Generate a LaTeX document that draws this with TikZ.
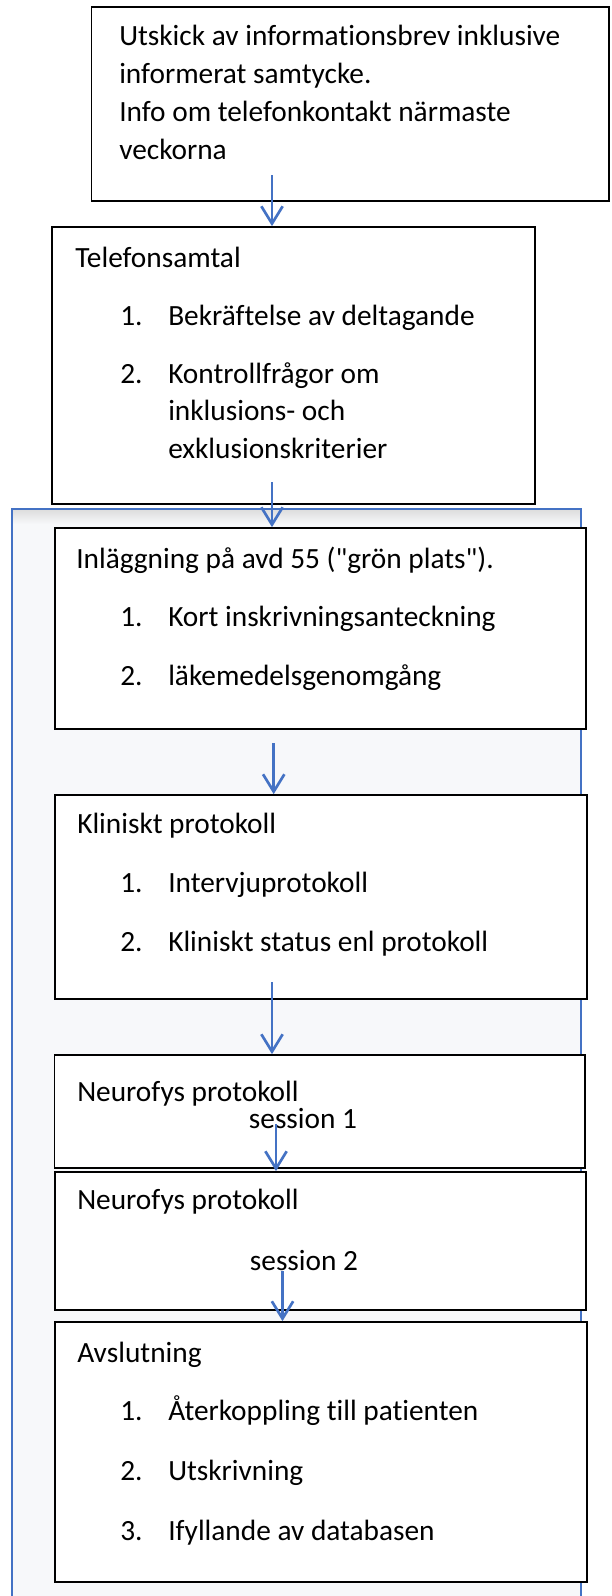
\documentclass[tikz,border=0pt]{standalone}
\usepackage{fontspec}
\setmainfont{Carlito}[Ligatures={TeXOff,NoCommon}]
\usetikzlibrary{arrows.meta,fit}
\definecolor{wblue}{HTML}{4472C4}
\definecolor{framefill}{HTML}{F7F8FA}
\tikzset{
 box/.style={draw=black, line width=1.3pt, fill=white, inner sep=0pt},
 txt/.style={anchor=base west, inner sep=0pt, font=\fontsize{22}{27}\selectfont},
 ctxt/.style={anchor=base, inner sep=0pt, font=\fontsize{22}{27}\selectfont},
 flow/.style={draw=wblue, line width=2pt, -{Straight Barb[length=13pt,width=16pt]}},
}
\begin{document}
\begin{tikzpicture}[x=0.75pt,y=-0.75pt]
\useasboundingbox (0,0) rectangle (611,1596);
% outer blue frame (open at the bottom)
\fill[framefill] (12,509) rectangle (581,1596);
\shade[top color=black!13, bottom color=framefill] (13,510) rectangle (580,524);
\draw[wblue, line width=2pt] (12,1600) -- (12,509) -- (581,509) -- (581,1600);

% boxes
\node[box, fit={(91.6,7) (609,201)}] (b1) {};
\node[box, fit={(52,227) (535,504)}] (b2) {};
\node[box, fit={(55,528) (586,729)}] (b3) {};
\node[box, fit={(55,795) (587,999)}] (b4) {};
\node[box, fit={(54.5,1055) (585,1168)}] (b5) {};
\node[box, fit={(55,1172) (586,1310)}] (b6) {};
\node[box, fit={(55,1322) (587,1582)}] (b7) {};

% box 1 text
\node[txt] (t1a) at (119,45.5) {Utskick av informationsbrev inklusive};
\node[txt] (t1b) at (119,83.5) {informerat samtycke.};
\node[txt] (t1c) at (119,121) {Info om telefonkontakt närmaste};
\node[txt] (t1d) at (119,159) {veckorna};

% box 2 text
\node[txt] (t2a) at (75,267) {Telefonsamtal};
\node[txt] (t2n1) at (120,325) {1.};
\node[txt] (t2b) at (168,325) {Bekräftelse av deltagande};
\node[txt] (t2n2) at (120,383) {2.};
\node[txt] (t2c) at (168,383) {Kontrollfrågor om};
\node[txt] (t2d) at (168,420.5) {inklusions- och};
\node[txt] (t2e) at (168,458) {exklusionskriterier};

% box 3 text
\node[txt] (t3a) at (76,568) {Inläggning på avd 55 ("grön plats").};
\node[txt] (t3n1) at (120,626) {1.};
\node[txt] (t3b) at (168,626) {Kort inskrivningsanteckning};
\node[txt] (t3n2) at (120,685) {2.};
\node[txt] (t3c) at (168,685) {läkemedelsgenomgång};

% box 4 text
\node[txt] (t4a) at (77,833) {Kliniskt protokoll};
\node[txt] (t4n1) at (120,892) {1.};
\node[txt] (t4b) at (168,892) {Intervjuprotokoll};
\node[txt] (t4n2) at (120,951) {2.};
\node[txt] (t4c) at (168,951) {Kliniskt status enl protokoll};

% box 5 text
\node[txt] (t5a) at (77,1101) {Neurofys protokoll};
\node[ctxt] (t5b) at (303,1128) {session 1};

% box 6 text
\node[txt] (t6a) at (77,1209) {Neurofys protokoll};
\node[ctxt] (t6b) at (304,1270) {session 2};

% box 7 text
\node[txt] (t7a) at (77,1362) {Avslutning};
\node[txt] (t7n1) at (120,1420) {1.};
\node[txt] (t7b) at (168,1420) {Återkoppling till patienten};
\node[txt] (t7n2) at (120,1480) {2.};
\node[txt] (t7c) at (168,1480) {Utskrivning};
\node[txt] (t7n3) at (120,1540) {3.};
\node[txt] (t7d) at (168,1540) {Ifyllande av databasen};

% arrow start points
\coordinate (s1) at (272,175);
\coordinate (s2) at (272,482);
\coordinate (s3) at (273.7,743);
\coordinate (s4) at (272,982);
\coordinate (s5) at (276,1124);
\coordinate (s6) at (282.5,1271);

\draw[flow] (s1) -- (s1 |- b2.north);
\draw[flow] (s2) -- (s2 |- b3.north);
\draw[flow] (s3) -- (s3 |- b4.north);
\draw[flow] (s4) -- (s4 |- b5.north);
\draw[flow] (s5) -- (s5 |- b6.north);
\draw[flow] (s6) -- (s6 |- b7.north);
\end{tikzpicture}
\end{document}
